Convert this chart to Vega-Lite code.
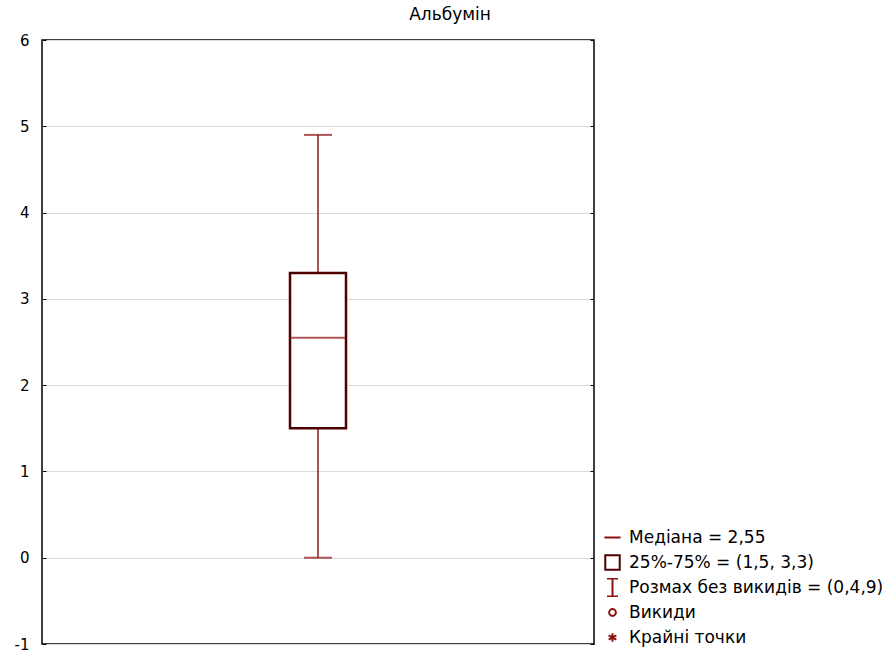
{
  "$schema": "https://vega.github.io/schema/vega-lite/v6.json",
  "width": 552,
  "height": 604,
  "autosize": {"type": "none"},
  "padding": {"left": 42, "top": 40, "right": 300, "bottom": 8},
  "background": "white",
  "config": {
    "view": {"stroke": "black", "strokeWidth": 1.5},
    "font": "DejaVu Sans"
  },
  "title": {
    "text": "Альбумін",
    "anchor": "middle",
    "dx": 132,
    "fontSize": 17,
    "font": "DejaVu Sans",
    "fontWeight": "normal",
    "color": "black",
    "offset": 9
  },
  "datasets": {
    "box": [
      {"variable": "Альбумін", "min": 0, "q1": 1.5, "median": 2.55, "q3": 3.3, "max": 4.9}
    ],
    "legend": [
      {"item": "Медіана = 2,55"},
      {"item": "25%-75% = (1,5, 3,3)"},
      {"item": "Розмах без викидів = (0,4,9)"},
      {"item": "Викиди"},
      {"item": "Крайні точки"}
    ]
  },
  "resolve": {"axis": {"y": "independent"}},
  "layer": [
    {
      "data": {"name": "box"},
      "mark": {"type": "rule", "color": "#8b1a1a", "strokeWidth": 1.5},
      "encoding": {
        "x": {"field": "variable", "type": "nominal", "axis": null},
        "y": {
          "field": "min",
          "type": "quantitative",
          "scale": {"domain": [-1, 6], "nice": false, "zero": false},
          "axis": {
            "orient": "left",
            "title": null,
            "values": [-1, 0, 1, 2, 3, 4, 5, 6],
            "labelExpr": "'' + datum.value",
            "domain": false,
            "tickSize": -4,
            "tickColor": "black",
            "labelPadding": 17,
            "labelFontSize": 15,
            "labelFont": "DejaVu Sans",
            "labelColor": "black",
            "grid": true,
            "gridColor": "#d9d9d9",
            "gridWidth": 1
          }
        },
        "y2": {"field": "max"}
      }
    },
    {
      "data": {"name": "box"},
      "mark": {"type": "bar", "size": 56, "fill": "white", "stroke": "#4d0000", "strokeWidth": 2.5},
      "encoding": {
        "x": {"field": "variable", "type": "nominal", "axis": null},
        "y": {
          "field": "q1",
          "type": "quantitative",
          "axis": {
            "orient": "right",
            "title": null,
            "values": [-1, 0, 1, 2, 3, 4, 5, 6],
            "domain": false,
            "labels": false,
            "grid": false,
            "tickSize": -4,
            "tickColor": "black"
          }
        },
        "y2": {"field": "q3"}
      }
    },
    {
      "data": {"name": "box"},
      "mark": {"type": "tick", "size": 56, "thickness": 2, "color": "#8b1010"},
      "encoding": {
        "x": {"field": "variable", "type": "nominal", "axis": null},
        "y": {"field": "median", "type": "quantitative", "axis": null}
      }
    },
    {
      "data": {"name": "box"},
      "mark": {"type": "tick", "size": 28, "thickness": 2, "color": "#8b1010"},
      "encoding": {
        "x": {"field": "variable", "type": "nominal", "axis": null},
        "y": {"field": "min", "type": "quantitative", "axis": null}
      }
    },
    {
      "data": {"name": "box"},
      "mark": {"type": "tick", "size": 28, "thickness": 2, "color": "#8b1010"},
      "encoding": {
        "x": {"field": "variable", "type": "nominal", "axis": null},
        "y": {"field": "max", "type": "quantitative", "axis": null}
      }
    },
    {
      "data": {"name": "legend"},
      "mark": {"type": "point", "filled": false, "opacity": 0},
      "encoding": {
        "shape": {
          "field": "item",
          "type": "nominal",
          "scale": {
            "domain": ["Медіана = 2,55", "25%-75% = (1,5, 3,3)", "Розмах без викидів = (0,4,9)", "Викиди", "Крайні точки"],
            "range": [
              "M-0.95,0H0.95",
              "M-0.85,-0.85H0.85V0.85H-0.85Z",
              "M-0.65,-1.05H0.65M0,-1.05V1.05M-0.65,1.05H0.65",
              "M-0.4,0A0.4,0.4 0 1,0 0.4,0A0.4,0.4 0 1,0 -0.4,0",
              "M0,-0.5V0.5M-0.45,-0.25L0.45,0.25M-0.45,0.25L0.45,-0.25"
            ]
          },
          "legend": {
            "title": null,
            "orient": "none",
            "legendX": 561,
            "legendY": 488,
            "padding": 0,
            "labelFontSize": 17,
            "labelColor": "black",
            "labelFont": "DejaVu Sans",
            "labelLimit": 400,
            "symbolSize": 289,
            "symbolStrokeWidth": 2,
            "symbolOpacity": 1,
            "clipHeight": 19,
            "rowPadding": 6,
            "labelOffset": 7
          }
        },
        "color": {
          "field": "item",
          "type": "nominal",
          "scale": {
            "domain": ["Медіана = 2,55", "25%-75% = (1,5, 3,3)", "Розмах без викидів = (0,4,9)", "Викиди", "Крайні точки"],
            "range": ["#8b1010", "#4d0000", "#8b1010", "#8b1010", "#8b1010"]
          }
        }
      }
    }
  ]
}
